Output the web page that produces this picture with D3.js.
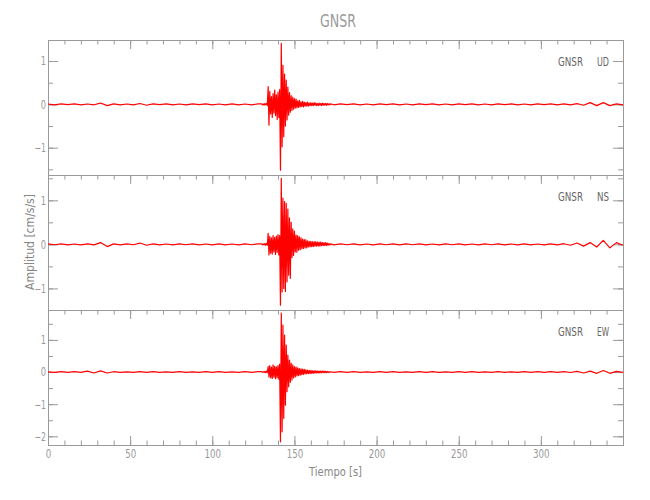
<!DOCTYPE html>
<html><head><meta charset="utf-8">
<script src="https://cdn.jsdelivr.net/npm/d3@7"></script>
<style>
html,body{margin:0;padding:0;background:#fff;}
svg{display:block;}
</style></head><body>
<svg id="chart" width="650" height="500"></svg>
<script>
// ---------- data ----------
const titleText = "GNSR";
const station = "GNSR";
const components = ["UD", "NS", "EW"];
const xLabel = "Tiempo [s]";
const yLabel = "Amplitud [cm/s/s]";
const xDomain = [0, 350];
const xTickValues = [0, 50, 100, 150, 200, 250, 300];
const xTickLabels = ["0", "50", "100", "150", "200", "250", "300"];
const yDomainUD = [-1.63, 1.485];
const yDomainNS = [-1.49, 1.575];
const yDomainEW = [-2.27, 1.93];
const yTicksUD = [-1, 0, 1];
const yTicksNS = [-1, 0, 1];
const yTicksEW = [-2, -1, 0, 1];
const yTickLabelsUD = ["\u22121", "0", "1"];
const yTickLabelsNS = ["\u22121", "0", "1"];
const yTickLabelsEW = ["\u22122", "\u22121", "0", "1"];

// sampling of the three trace segments (seconds)
const preStart = 0, preStep = 4;
const evStart = 130, evStep = 0.5;
const postStart = 174, postStep = 4;

// UD component (cm/s/s)
const udPre = [0.008,-0.01,0.01,-0.008,0.01,-0.01,0.008,-0.01,0.03,-0.03,0.01,-0.01,0.008,-0.01,0.02,-0.02,0.01,-0.008,0.01,-0.01,0.008,-0.01,0.01,-0.008,0.01,-0.01,0.008,-0.01,0.01,-0.01,0.008,-0.01,0.01];
const udEvent = [0.01,-0.01,0.01,-0.02,0.02,-0.01,0.02,-0.03,0.41,-0.48,
  0.30,-0.22,0.18,-0.30,0.25,-0.20,0.33,-0.26,0.22,-0.35,
  0.28,-0.30,0.34,-1.52,1.41,-0.98,0.90,-0.75,0.70,-0.50,
  0.56,-0.36,0.40,-0.25,0.27,-0.18,0.20,-0.14,0.17,-0.11,
  0.13,-0.09,0.12,-0.08,0.08,-0.07,0.09,-0.06,0.06,-0.05,
  0.07,-0.06,0.05,-0.04,0.04,-0.04,0.05,-0.04,0.03,-0.03,
  0.04,-0.03,0.03,-0.03,0.04,-0.02,0.03,-0.03,0.02,-0.03,
  0.03,-0.02,0.02,-0.03,0.03,-0.02,0.02,-0.02,0.02,-0.02,
  0.02,-0.015,0.015,-0.01,0.01];
const udPost = [-0.01,0.01,-0.008,0.01,-0.01, 0.008,-0.01,0.01,-0.008,0.01,
  -0.01,0.008,-0.01,0.01,-0.008, 0.01,-0.01,0.008,-0.01,0.01,
  -0.008,0.01,-0.01,0.008,-0.01, 0.01,-0.008,0.01,-0.01,0.008,
  -0.01,0.01,-0.008,0.01,-0.01, 0.01,-0.01,0.015,-0.02,0.04,
  -0.03,0.04,-0.03,0.01,-0.01];

// NS component
const nsPre = [0.01,-0.008,0.01,-0.01,0.008,-0.01,0.01,-0.01,0.04,-0.05,0.01,-0.01,0.01,-0.008,0.03,-0.02,0.01,-0.01,0.008,-0.01,0.01,-0.008,0.01,-0.01,0.008,-0.01,0.01,-0.01,0.008,-0.01,0.01,-0.008,0.01];
const nsEvent = [0.01,-0.01,0.01,-0.01,0.02,-0.02,0.02,-0.02,0.25,-0.24,
  0.18,-0.20,0.15,-0.22,0.20,-0.17,0.16,-0.23,0.19,-0.18,
  0.22,-0.24,0.20,-1.38,1.50,-1.08,1.05,-1.00,0.97,-1.07,
  0.93,-0.85,0.80,-0.70,0.60,-0.77,0.50,-0.30,0.35,-0.25,
  0.30,-0.17,0.21,-0.18,0.20,-0.13,0.17,-0.12,0.15,-0.10,
  0.12,-0.09,0.11,-0.08,0.10,-0.08,0.08,-0.06,0.07,-0.06,
  0.07,-0.05,0.06,-0.05,0.06,-0.04,0.06,-0.04,0.05,-0.04,
  0.05,-0.04,0.05,-0.03,0.04,-0.03,0.04,-0.03,0.04,-0.03,
  0.03,-0.02,0.02,-0.015,0.01];
const nsPost = [-0.01,0.01,-0.008,0.01,-0.01, 0.008,-0.01,0.01,-0.008,0.01,
  -0.01,0.01,-0.008,0.01,-0.01, 0.008,-0.01,0.01,-0.008,0.01,
  -0.01,0.008,-0.01,0.01,-0.008, 0.01,-0.01,0.008,-0.01,0.01,
  -0.01,0.008,-0.01,0.01,-0.01, 0.015,-0.02,0.03,-0.04,0.04,
  -0.06,0.09,-0.08,0.04,-0.02];

// EW component
const ewPre = [0.008,-0.01,0.01,-0.008,0.01,-0.01,0.03,-0.03,0.035,-0.03,0.01,-0.01,0.008,-0.01,0.01,-0.008,0.01,-0.01,0.008,-0.01,0.01,-0.01,0.008,-0.01,0.01,-0.008,0.01,-0.01,0.008,-0.01,0.01,-0.008,0.01];
const ewEvent = [0.01,-0.01,0.01,-0.01,0.02,-0.02,0.03,-0.02,0.17,-0.15,
  0.20,-0.18,0.15,-0.20,0.22,-0.16,0.18,-0.21,0.16,-0.18,
  0.20,-0.22,0.25,-2.17,1.83,-1.86,1.46,-1.44,1.15,-1.03,
  0.84,-0.61,0.53,-0.46,0.37,-0.32,0.28,-0.25,0.22,-0.18,
  0.17,-0.15,0.15,-0.12,0.13,-0.11,0.11,-0.10,0.10,-0.08,
  0.09,-0.07,0.08,-0.06,0.07,-0.06,0.06,-0.05,0.05,-0.05,
  0.05,-0.04,0.04,-0.04,0.04,-0.03,0.04,-0.03,0.03,-0.03,
  0.03,-0.03,0.03,-0.02,0.03,-0.02,0.03,-0.02,0.02,-0.02,
  0.02,-0.015,0.015,-0.01,0.01];
const ewPost = [-0.01,0.01,-0.008,0.01,-0.01, 0.008,-0.01,0.01,-0.008,0.01,
  -0.01,0.008,-0.01,0.01,-0.008, 0.01,-0.01,0.008,-0.01,0.01,
  -0.008,0.01,-0.01,0.008,-0.01, 0.01,-0.01,0.008,-0.01,0.01,
  -0.008,0.01,-0.01,0.01,-0.01, 0.01,-0.015,0.02,-0.03,0.03,
  -0.04,0.05,-0.04,0.02,-0.01];

// ---------- build ----------
function buildSeries(pre, ev, post) {
  const out = [];
  pre.forEach((v, i) => out.push([preStart + i * preStep, v]));
  ev.forEach((v, i) => out.push([evStart + i * evStep, v]));
  post.forEach((v, i) => out.push([postStart + i * postStep, v]));
  return out;
}

const panels = [
  {comp: components[0], domain: yDomainUD, ticks: yTicksUD, labels: yTickLabelsUD, series: buildSeries(udPre, udEvent, udPost)},
  {comp: components[1], domain: yDomainNS, ticks: yTicksNS, labels: yTickLabelsNS, series: buildSeries(nsPre, nsEvent, nsPost)},
  {comp: components[2], domain: yDomainEW, ticks: yTicksEW, labels: yTickLabelsEW, series: buildSeries(ewPre, ewEvent, ewPost)}
];

const svg = d3.select("#chart");
const left = 48, right = 623, top0 = 40, panelH = 135;
const axisColor = "#9a9a9a";
const FONT = "'DejaVu Sans', sans-serif";
const W = 400;

const x = d3.scaleLinear().domain(xDomain).range([left, right]);

function charW(s, digitW, minusW) {
  let w = 0;
  for (const c of s) w += (c === "\u2212" || c === "-") ? minusW : digitW;
  return w;
}
function styleAxis(g, color) {
  g.select(".domain").remove();
  g.selectAll(".tick line").attr("stroke", color);
  g.attr("font-family", FONT).attr("font-weight", W);
}

panels.forEach((p, i) => {
  const yTop = top0 + i * panelH, yBot = yTop + panelH;
  const y = d3.scaleLinear().domain(p.domain).range([yBot, yTop]);
  p.y = y;
  const g = svg.append("g");

  g.append("rect").attr("x", left + 0.5).attr("y", yTop + 0.5)
    .attr("width", right - left).attr("height", panelH)
    .attr("fill", "none").attr("stroke", axisColor).attr("stroke-width", 1);

  const minorY = d3.range(Math.ceil(p.domain[0] * 2) / 2, p.domain[1] + 1e-9, 0.5);
  const la = g.append("g").attr("transform", `translate(${left},0)`)
    .call(d3.axisLeft(y).tickValues(p.ticks).tickFormat((d, k) => p.labels[k]).tickSize(-10).tickPadding(2));
  styleAxis(la, axisColor);
  la.selectAll("text").attr("fill", "#999").attr("font-size", 12)
    .each(function () {
      const s = d3.select(this).text();
      d3.select(this).attr("textLength", charW(s, 5.3, 6.3)).attr("lengthAdjust", "spacingAndGlyphs");
    });
  const lm = g.append("g").attr("transform", `translate(${left},0)`)
    .call(d3.axisLeft(y).tickValues(minorY).tickFormat("").tickSize(-5));
  styleAxis(lm, axisColor);
  const ra = g.append("g").attr("transform", `translate(${right},0)`)
    .call(d3.axisRight(y).tickValues(p.ticks).tickFormat("").tickSize(-10));
  styleAxis(ra, axisColor);
  const rm = g.append("g").attr("transform", `translate(${right},0)`)
    .call(d3.axisRight(y).tickValues(minorY).tickFormat("").tickSize(-5));
  styleAxis(rm, axisColor);
  const ta = g.append("g").attr("transform", `translate(0,${yTop})`)
    .call(d3.axisTop(x).tickValues(xTickValues).tickFormat("").tickSize(-9));
  styleAxis(ta, axisColor);
  const tm = g.append("g").attr("transform", `translate(0,${yTop})`)
    .call(d3.axisTop(x).tickValues(d3.range(0, 351, 10)).tickFormat("").tickSize(-4.5));
  styleAxis(tm, axisColor);

  if (i === panels.length - 1) {
    const ba = g.append("g").attr("transform", `translate(0,${yBot})`)
      .call(d3.axisBottom(x).tickValues(xTickValues).tickFormat((d, k) => xTickLabels[k]).tickSize(-9).tickPadding(4));
    styleAxis(ba, axisColor);
    ba.selectAll("text").attr("fill", "#999").attr("font-size", 13)
      .each(function () {
        const s = d3.select(this).text();
        d3.select(this).attr("textLength", charW(s, 5.5, 6.3)).attr("lengthAdjust", "spacingAndGlyphs");
      });
    const bm = g.append("g").attr("transform", `translate(0,${yBot})`)
      .call(d3.axisBottom(x).tickValues(d3.range(0, 351, 10)).tickFormat("").tickSize(-4.5));
    styleAxis(bm, axisColor);
  }

  g.append("text").attr("x", 558).attr("y", yTop + 26)
    .attr("font-family", FONT).attr("font-weight", W).attr("font-size", 12.5)
    .attr("fill", "#666").attr("textLength", 25).attr("lengthAdjust", "spacingAndGlyphs")
    .text(station);
  g.append("text").attr("x", 609).attr("y", yTop + 26).attr("text-anchor", "end")
    .attr("font-family", FONT).attr("font-weight", W).attr("font-size", 12.5)
    .attr("fill", "#666").attr("textLength", 12).attr("lengthAdjust", "spacingAndGlyphs")
    .text(p.comp);
});

panels.forEach(p => {
  const line = d3.line().x(d => x(d[0])).y(d => p.y(d[1]));
  svg.append("path").datum(p.series)
    .attr("d", line).attr("fill", "none")
    .attr("stroke", "#ff0000").attr("stroke-width", 1.2).attr("stroke-linejoin", "round");
});

svg.append("text").attr("x", 338).attr("y", 27).attr("text-anchor", "middle")
  .attr("font-family", FONT).attr("font-weight", W).attr("font-size", 18)
  .attr("fill", "#999").attr("textLength", 36).attr("lengthAdjust", "spacingAndGlyphs")
  .text(titleText);
svg.append("text").attr("x", (left + right) / 2).attr("y", 476).attr("text-anchor", "middle")
  .attr("font-family", FONT).attr("font-weight", W).attr("font-size", 13)
  .attr("fill", "#888").attr("textLength", 53).attr("lengthAdjust", "spacingAndGlyphs")
  .text(xLabel);
svg.append("text").attr("transform", `translate(34,242) rotate(-90)`).attr("text-anchor", "middle")
  .attr("font-family", FONT).attr("font-weight", W).attr("font-size", 13)
  .attr("fill", "#888").attr("textLength", 96).attr("lengthAdjust", "spacingAndGlyphs")
  .text(yLabel);
</script>
</body></html>
